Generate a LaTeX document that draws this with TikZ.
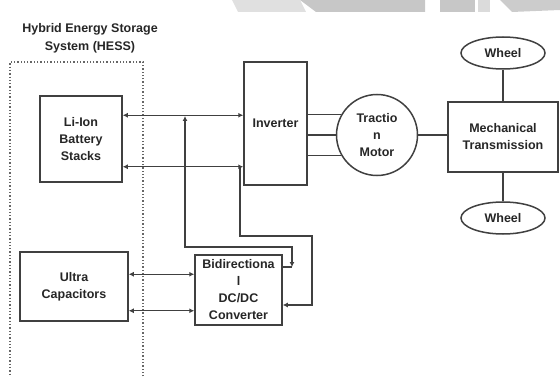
\documentclass[tikz,border=0pt]{standalone}
\usepackage{fontspec}
\setmainfont{Liberation Sans}
\usetikzlibrary{arrows.meta,shapes.geometric}

\begin{document}
\begin{tikzpicture}[
        x=1pt, y=-1pt,
        line width=1.3pt,
        >={Latex[length=5pt,width=5pt]},
        every node/.style={
            font=\bfseries\fontsize{12.5}{17}\selectfont,
            text=black!85,
            align=center,
            inner sep=0pt
        },
        block/.style={
            rectangle,
            draw=black!75,
            line width=1.5pt
        },
        hessbox/.style={
            rectangle,
            draw=black!60,
            dotted,
            line width=1.3pt
        },
        wheelnode/.style={
            ellipse,
            draw=black!75,
            line width=1.5pt,
            minimum width=84pt,
            minimum height=32pt
        },
        wire/.style={draw=black!75, line width=1.3pt}
    ]
    \useasboundingbox (0,0) rectangle (560,377);

    % Marca de agua
    \fill[black!12] (232,0) -- (300,0) -- (306,12) -- (238,12) -- cycle;
    \fill[black!22] (300,0) -- (425,0) -- (425,12) -- (316,12) -- cycle;
    \fill[black!22] (440,0) -- (475,0) -- (475,12) -- (440,12) -- cycle;
    \fill[black!14] (478,0) -- (490,0) -- (490,12) -- (478,12) -- cycle;
    \fill[black!20] (500,0) -- (560,0) -- (560,10) -- (512,12) -- cycle;

    % Bloques
    \node (title) at (90,38) {Hybrid Energy Storage\\[1pt]System (HESS)};
    \node[hessbox, minimum width=133pt, minimum height=320pt] (hess) at (76.5,222) {};
    \node[block, minimum width=82pt, minimum height=86pt] (bat) at (81,139) {Li-Ion\\Battery\\Stacks};
    \node[block, minimum width=108pt, minimum height=69pt] (ucap) at (74,286.5) {Ultra\\Capacitors};
    \node[block, minimum width=63pt, minimum height=123pt] (inv) at (275.5,123.5) {Inverter};
    \node[block, minimum width=87pt, minimum height=70pt] (conv) at (238.5,290) {Bidirectiona\\l\\DC/DC\\Converter};
    \node[block, circle, minimum size=81pt] (motor) at (377,135) {Tractio\\n\\Motor};
    \node[block, minimum width=110pt, minimum height=70pt] (mech) at (503,137) {Mechanical\\Transmission};
    \node[wheelnode] (wheeltop) at (503,53) {Wheel};
    \node[wheelnode] (wheelbot) at (503,218) {Wheel};

    % Puntos de paso
    \coordinate (b1) at ([yshift=-20pt]bat.north east);
    \coordinate (b2) at ([yshift=16pt]bat.south east);
    \coordinate (u1) at ([yshift=-23pt]ucap.north east);
    \coordinate (u2) at ([yshift=11pt]ucap.south east);
    \coordinate (j1) at (185,116);
    \coordinate (j2) at (240,166);
    \coordinate (c1) at (292,247);
    \coordinate (c2) at (292,267);
    \coordinate (c3) at (312,236);
    \coordinate (c4) at (312,305);

    % Conexiones
    \draw[wire, <->] (b1) -- (b1 -| inv.west);
    \draw[wire, <->] (b2) -- (b2 -| inv.west);
    \draw[wire, <->] (u1) -- (u1 -| conv.west);
    \draw[wire, <->] (u2) -- (u2 -| conv.west);
    \draw[wire, <->] (j1) |- (c1) -- (c2);
    \draw[wire] (c2) -- (c2 -| conv.east);
    \draw[wire, ->] (j2) |- (c3) -- (c4) -- (c4 -| conv.east);
    \draw[wire] (inv.east |- motor.150) -- (motor.150);
    \draw[wire] (inv.east |- motor.west) -- (motor.west);
    \draw[wire] (inv.east |- motor.210) -- (motor.210);
    \draw[wire] (motor.east) -- (motor.east -| mech.west);
    \draw[wire] (wheeltop) -- (mech);
    \draw[wire] (mech) -- (wheelbot);

\end{tikzpicture}
\end{document}
